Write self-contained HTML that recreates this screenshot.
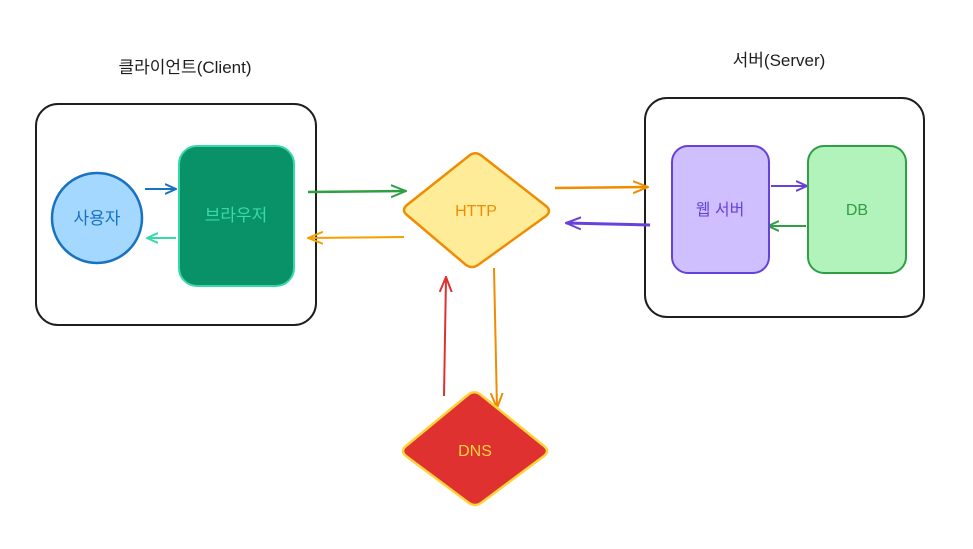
<!DOCTYPE html>
<html><head><meta charset="utf-8"><style>
html,body{margin:0;padding:0;background:#fff;width:973px;height:549px;overflow:hidden}
text{font-family:"Liberation Sans","Noto Sans CJK KR",sans-serif}
</style></head><body>
<svg width="973" height="549" viewBox="0 0 973 549" xmlns="http://www.w3.org/2000/svg">
<defs>
<marker id="a" viewBox="0 0 16 16" refX="15" refY="8" markerWidth="16" markerHeight="16" markerUnits="userSpaceOnUse" orient="auto"><path d="M0,2 L15,8 L0,14" fill="none" stroke="context-stroke" stroke-width="2"/></marker>
<marker id="b" viewBox="0 0 12 12" refX="11" refY="6" markerWidth="12" markerHeight="12" markerUnits="userSpaceOnUse" orient="auto"><path d="M0,1 L11,6 L0,11" fill="none" stroke="context-stroke" stroke-width="2"/></marker>
</defs>
<text x="185" y="73" font-size="17" text-anchor="middle" fill="#1e1e1e">클라이언트(Client)</text>
<text x="779" y="66" font-size="17" text-anchor="middle" fill="#1e1e1e">서버(Server)</text>
<rect x="36" y="104" width="280" height="221" rx="22" fill="none" stroke="#1e1e1e" stroke-width="2"/>
<rect x="645" y="98" width="279" height="219" rx="22" fill="none" stroke="#1e1e1e" stroke-width="2"/>
<circle cx="97" cy="218" r="45" fill="#a5d8ff" stroke="#1971c2" stroke-width="2.5"/>
<text x="97" y="224" font-size="17" text-anchor="middle" fill="#1971c2">사용자</text>
<rect x="179" y="146" width="115" height="140" rx="18" fill="#099268" stroke="#38d9a9" stroke-width="2"/>
<text x="236" y="221" font-size="17" text-anchor="middle" fill="#38d9a9">브라우저</text>
<g fill="none" stroke-width="2">
<line x1="145" y1="189" x2="176" y2="189" stroke="#1971c2" marker-end="url(#b)"/>
<line x1="176" y1="238" x2="147" y2="238" stroke="#38d9a9" marker-end="url(#b)"/>
<line x1="308" y1="192" x2="406" y2="191" stroke="#2f9e44" stroke-width="2.5" marker-end="url(#a)"/>
<line x1="404" y1="237" x2="308" y2="238" stroke="#f59f00" marker-end="url(#a)"/>
<line x1="555" y1="188" x2="648" y2="187" stroke="#f08c00" stroke-width="2.5" marker-end="url(#a)"/>
<line x1="650" y1="225" x2="566" y2="223" stroke="#6741d9" stroke-width="3" marker-end="url(#a)"/>
<line x1="771" y1="186" x2="807" y2="186" stroke="#6741d9" marker-end="url(#b)"/>
<line x1="806" y1="226" x2="768" y2="226" stroke="#2f9e44" marker-end="url(#b)"/>
<line x1="444" y1="396" x2="446" y2="277" stroke="#e03131" marker-end="url(#a)"/>
<line x1="494" y1="268" x2="497" y2="408" stroke="#f08c00" marker-end="url(#a)"/>
</g>
<path d="M470,155 Q476,151 482,156 L546,206 Q552,211 546,216 L478,265 Q472,269 466,265 L407,215 Q401,210 407,205 Z" fill="#ffec99" stroke="#f08c00" stroke-width="2.5"/>
<text x="476" y="216" font-size="16" text-anchor="middle" fill="#f08c00">HTTP</text>
<rect x="672" y="146" width="97" height="127" rx="16" fill="#d0bfff" stroke="#6741d9" stroke-width="2"/>
<text x="720" y="215" font-size="16" text-anchor="middle" fill="#6741d9">웹 서버</text>
<rect x="808" y="146" width="98" height="127" rx="16" fill="#b2f2bb" stroke="#2f9e44" stroke-width="2"/>
<text x="857" y="215" font-size="16" text-anchor="middle" fill="#2f9e44">DB</text>
<path d="M469,394 Q475,390 481,395 L544,446 Q550,451 544,456 L481,503 Q475,507 469,503 L406,456 Q400,451 406,446 Z" fill="#e03131" stroke="#ffd43b" stroke-width="2.5"/>
<text x="475" y="456" font-size="16" text-anchor="middle" fill="#ffd43b">DNS</text>
</svg>
</body></html>
